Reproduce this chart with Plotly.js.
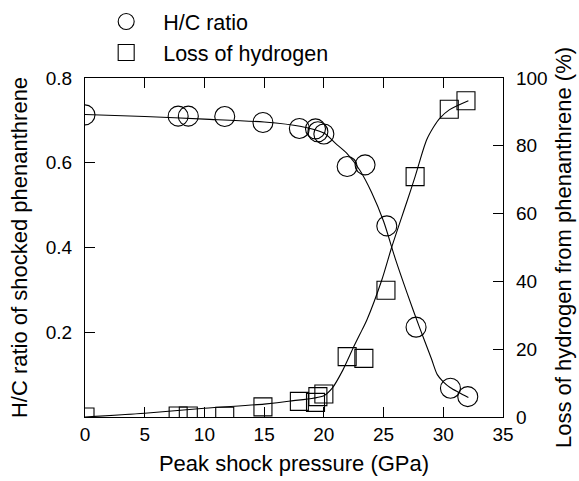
<!DOCTYPE html>
<html>
<head>
<meta charset="utf-8">
<script src="https://cdn.plot.ly/plotly-3.0.1.min.js"></script>
<style>html,body{margin:0;padding:0;background:#fff;}</style>
</head>
<body>
<div id="chart" style="width:579px;height:481px;"></div>
<script>
// Measured points
const hcPressure = [0, 7.8, 8.65, 11.7, 14.9, 17.95, 19.3, 19.5, 20.0, 21.95, 23.45, 25.27, 27.72, 30.6, 32.05];
const hcRatio    = [0.713, 0.710, 0.710, 0.709, 0.695, 0.681, 0.680, 0.673, 0.668, 0.591, 0.595, 0.451, 0.212, 0.068, 0.048];
const lossPressure = [0, 7.8, 8.65, 11.7, 14.9, 17.95, 19.3, 19.5, 20.0, 21.95, 23.35, 25.2, 27.64, 30.5, 31.9];
const lossPercent  = [0, 0.3, 0.3, 0.2, 3.0, 4.6, 4.3, 6.0, 6.8, 17.8, 17.3, 37.4, 70.9, 90.8, 93.3];
// Fitted curves
const hcCurveX = [0, 5, 10, 15, 18, 20, 21, 22, 23, 24, 25, 26, 27, 28, 29, 29.5, 30, 30.6, 31.3, 32.1];
const hcCurveY = [0.714, 0.709, 0.703, 0.696, 0.686, 0.670, 0.645, 0.620, 0.583, 0.530, 0.462, 0.372, 0.290, 0.212, 0.138, 0.100, 0.083, 0.069, 0.058, 0.046];
const lossCurveX = [0, 5, 10, 15, 17.2, 20.0, 20.7, 21.6, 22.5, 23.2, 23.6, 24.85, 25.7, 27.0, 27.64, 28.6, 29.2, 29.7, 30.5, 32.1];
const lossCurveY = [0, 1.1, 2.6, 3.8, 4.7, 6.3, 8.5, 13.9, 20.7, 25.7, 28.6, 40.4, 50.3, 64, 70.9, 81.7, 85.6, 88.1, 90.6, 93.3];
// Labels
const xTitle = 'Peak shock pressure (GPa)';
const yTitle = 'H/C ratio of shocked phenanthrene';
const y2Title = 'Loss of hydrogen from phenanthrene (%)';
const hcName = 'H/C ratio';
const lossName = 'Loss of hydrogen';

const FONT = 'Liberation Sans, Arial, Helvetica, sans-serif';

const traces = [
  {x: hcCurveX, y: hcCurveY, mode: 'lines', line: {color: '#000', width: 1.1, shape: 'spline', smoothing: 0.8}, showlegend: false, hoverinfo: 'skip', yaxis: 'y'},
  {x: lossCurveX, y: lossCurveY, mode: 'lines', line: {color: '#000', width: 1.1, shape: 'spline', smoothing: 0.8}, showlegend: false, hoverinfo: 'skip', yaxis: 'y2'},
  {x: hcPressure, y: hcRatio, name: hcName, mode: 'markers', yaxis: 'y',
   marker: {symbol: 'circle-open', size: 20, color: '#000', line: {color: '#000', width: 1.1}}},
  {x: lossPressure, y: lossPercent, name: lossName, mode: 'markers', yaxis: 'y2',
   marker: {symbol: 'square-open', size: 18, color: '#000', line: {color: '#000', width: 1.1}}}
];

const layout = {
  width: 579, height: 481,
  margin: {l: 85, r: 76, t: 78, b: 64, autoexpand: false},
  paper_bgcolor: '#fff', plot_bgcolor: '#fff',
  font: {family: FONT, size: 19, color: '#000'},
  showlegend: true,
  legend: {x: 0.01, y: 1.227, xanchor: 'left', yanchor: 'top', itemwidth: 64, font: {family: FONT, size: 21.5, color: '#000'}, bgcolor: 'rgba(0,0,0,0)', tracegroupgap: 0},
  xaxis: {
    range: [0, 35], dtick: 5, tick0: 0, ticks: 'inside', ticklen: 10, tickwidth: 1, tickcolor: '#000', ticklabelstandoff: 0,
    showline: true, linecolor: '#000', linewidth: 1.1, mirror: 'ticks', showgrid: false, zeroline: false,
    tickfont: {family: FONT, size: 19}, title: {text: xTitle, font: {family: FONT, size: 22}, standoff: 11}
  },
  yaxis: {
    range: [0, 0.8], tickvals: [0.2, 0.4, 0.6, 0.8], ticktext: ['0.2', '0.4', '0.6', '0.8'], ticks: 'inside', ticklen: 10, tickwidth: 1, tickcolor: '#000', ticklabelstandoff: 8,
    showline: true, linecolor: '#000', linewidth: 1.1, showgrid: false, zeroline: false,
    tickfont: {family: FONT, size: 19}, title: {text: yTitle, font: {family: FONT, size: 22}, standoff: 12}
  },
  yaxis2: {
    range: [0, 100], dtick: 20, tick0: 0, overlaying: 'y', side: 'right', ticks: 'inside', ticklen: 10, tickwidth: 1, tickcolor: '#000', ticklabelstandoff: 8,
    showline: true, linecolor: '#000', linewidth: 1.1, showgrid: false, zeroline: false,
    tickfont: {family: FONT, size: 19}, title: {text: y2Title, font: {family: FONT, size: 22}, standoff: 9}
  }
};

Plotly.newPlot('chart', traces, layout, {displayModeBar: false, staticPlot: true});
</script>
</body>
</html>
